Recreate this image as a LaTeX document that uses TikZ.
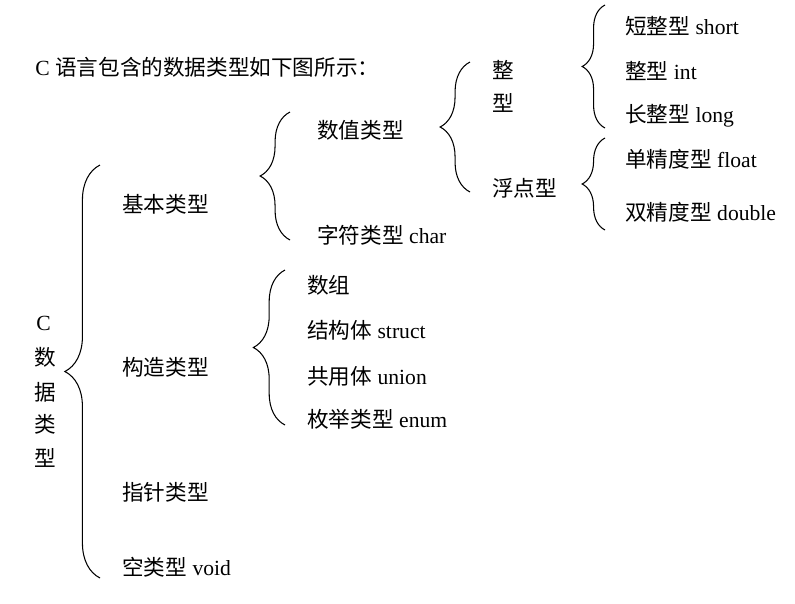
\documentclass[tikz,border=0pt]{standalone}
\usepackage{fontspec}
\setmainfont{Liberation Serif}
\newfontfamily\cjk{Noto Sans CJK SC}
\usetikzlibrary{decorations.pathreplacing}
\begin{document}
\begin{tikzpicture}
	[
	x=0.02cm, y=-0.02cm,
	every node/.style={anchor=west, inner sep=0pt, font=\fontsize{12.3}{14}\selectfont},
	brc/.style={decorate, decoration={brace, amplitude=#1}, line width=0.6pt}
	]
		\useasboundingbox (0,0) rectangle (795,603);
		% title
		\node (title) at (35, 67) {C {\cjk 语言包含的数据类型如下图所示：}};
		
		% root
		\node (r1) at (36, 323) {C};
		\node (r2) at (34, 357) {\cjk 数};
		\node (r3) at (34, 392) {\cjk 据};
		\node (r4) at (34, 424) {\cjk 类};
		\node (r5) at (34, 458) {\cjk 型};
		
		% level 1
		\node (basic) at (122, 204) {\cjk 基本类型};
		\node (cons) at (122, 367) {\cjk 构造类型};
		\node (ptr) at (122, 492) {\cjk 指针类型};
		\node (void) at (122, 567) {{\cjk 空类型} void};
		
		% level 2
		\node (num) at (317, 130) {\cjk 数值类型};
		\node (chr) at (317, 235) {{\cjk 字符类型} char};
		\node (arr) at (307, 285) {\cjk 数组};
		\node (st) at (307, 330) {{\cjk 结构体} struct};
		\node (un) at (307, 376) {{\cjk 共用体} union};
		\node (en) at (307, 419) {{\cjk 枚举类型} enum};
		
		% level 3
		\node (int1) at (492, 70) {\cjk 整};
		\node (int2) at (492, 103) {\cjk 型};
		\node (flt) at (492, 188) {\cjk 浮点型};
		
		% level 4
		\node (sh) at (625, 26) {{\cjk 短整型} short};
		\node (in) at (625, 71) {{\cjk 整型} int};
		\node (lo) at (625, 116) {{\cjk 长整型} long};
		\node (fl) at (625, 159) {{\cjk 单精度型} float};
		\node (db) at (625, 212) {{\cjk 双精度型} double};
		
		% braces
		\draw [brc=20] (100, 578) -- (100, 165);
		\draw [brc=17] (290, 240) -- (290, 112);
		\draw [brc=17] (470, 192) -- (470, 62);
		\draw [brc=13] (605, 128) -- (605, 5);
		\draw [brc=13] (605, 230) -- (605, 138);
		\draw [brc=18] (285, 425) -- (285, 270);
	\end{tikzpicture}
\end{document}
